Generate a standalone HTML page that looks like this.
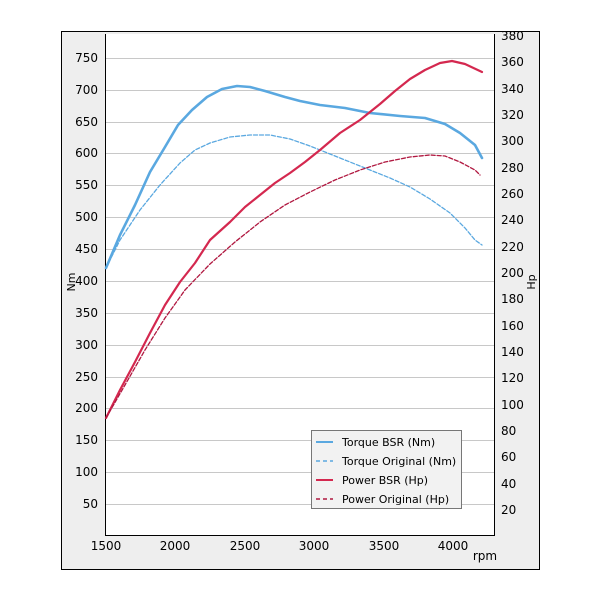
<!DOCTYPE html>
<html><head><meta charset="utf-8"><style>
html,body{margin:0;padding:0;background:#fff;}
svg{display:block;font-family:"DejaVu Sans","Liberation Sans",sans-serif;}
</style></head><body>
<svg width="600" height="600" viewBox="0 0 600 600" xmlns="http://www.w3.org/2000/svg">
<rect x="0" y="0" width="600" height="600" fill="#fff"/>
<rect x="61.5" y="31.5" width="478" height="538" fill="#eeeeee" stroke="#000" stroke-width="1"/>
<rect x="105.5" y="34" width="389" height="501.5" fill="#fff"/>
<g id="grid" stroke="#c8c8c8" stroke-width="1">
<line x1="106" x2="494" y1="504.5" y2="504.5"/><line x1="106" x2="494" y1="472.5" y2="472.5"/>
<line x1="106" x2="494" y1="440.5" y2="440.5"/><line x1="106" x2="494" y1="408.5" y2="408.5"/>
<line x1="106" x2="494" y1="377.5" y2="377.5"/><line x1="106" x2="494" y1="345.5" y2="345.5"/>
<line x1="106" x2="494" y1="313.5" y2="313.5"/><line x1="106" x2="494" y1="281.5" y2="281.5"/>
<line x1="106" x2="494" y1="249.5" y2="249.5"/><line x1="106" x2="494" y1="217.5" y2="217.5"/>
<line x1="106" x2="494" y1="185.5" y2="185.5"/><line x1="106" x2="494" y1="153.5" y2="153.5"/>
<line x1="106" x2="494" y1="122.5" y2="122.5"/><line x1="106" x2="494" y1="90.5" y2="90.5"/>
<line x1="106" x2="494" y1="58.5" y2="58.5"/>
</g>
<g stroke="#000" stroke-width="1" fill="none">
<line x1="105.5" y1="34" x2="105.5" y2="535.5"/>
<line x1="494.5" y1="34" x2="494.5" y2="535.5"/>
<line x1="105" y1="535.5" x2="495" y2="535.5"/>
</g>
<g id="ticks" stroke="#000" stroke-width="1"></g>
<g font-size="12" fill="#000" text-anchor="end">
<text x="98" y="508">50</text><text x="98" y="476">100</text><text x="98" y="444">150</text>
<text x="98" y="412">200</text><text x="98" y="381">250</text><text x="98" y="349">300</text>
<text x="98" y="317">350</text><text x="98" y="285">400</text><text x="98" y="253">450</text>
<text x="98" y="221">500</text><text x="98" y="189">550</text><text x="98" y="157">600</text>
<text x="98" y="126">650</text><text x="98" y="94">700</text><text x="98" y="62">750</text>
</g>
<g font-size="12" fill="#000" text-anchor="start">
<text x="501" y="514">20</text><text x="501" y="488">40</text><text x="501" y="461">60</text>
<text x="501" y="435">80</text><text x="501" y="409">100</text><text x="501" y="382">120</text>
<text x="501" y="356">140</text><text x="501" y="330">160</text><text x="501" y="303">180</text>
<text x="501" y="277">200</text><text x="501" y="251">220</text><text x="501" y="224">240</text>
<text x="501" y="198">260</text><text x="501" y="172">280</text><text x="501" y="145">300</text>
<text x="501" y="119">320</text><text x="501" y="93">340</text><text x="501" y="66">360</text>
<text x="501" y="40">380</text>
</g>
<g font-size="12" fill="#000" text-anchor="middle">
<text x="106" y="550">1500</text><text x="175" y="550">2000</text><text x="245" y="550">2500</text>
<text x="314" y="550">3000</text><text x="384" y="550">3500</text><text x="453" y="550">4000</text>
<text x="485" y="560">rpm</text>
</g>
<text font-size="11" transform="translate(75,282) rotate(-90)" text-anchor="middle">Nm</text>
<text font-size="11" transform="translate(535,282) rotate(-90)" text-anchor="middle">Hp</text>
<g fill="none" stroke-linejoin="round" stroke-linecap="round">
<polyline stroke="#5aa8e0" stroke-width="2.6" points="106,268 120,235 135,205 150,172 165,147 178,125 192,110 207,97 222,89 237,86 250,87 265,91 285,97 300,101 320,105 345,108 370,113 400,116 425,118 445,124 460,133 475,145 482,158"/>
<polyline stroke="#5aa8e0" stroke-width="1.3" stroke-dasharray="4,2" points="106,268 120,240 140,210 160,185 180,163 195,150 210,143 230,137 250,135 270,135 290,139 310,146 330,154 350,162 370,170 390,178 410,187 430,199 450,213 465,228 475,240 482,245"/>
<polyline stroke="#d4284f" stroke-width="2.2" points="106,418 120,390 135,362 150,333 165,305 180,282 195,263 210,240 230,222 245,207 260,195 275,183 290,173 305,162 320,150 340,133 360,120 380,104 395,91 410,79 425,70 440,63 452,61 465,64 482,72"/>
<polyline stroke="#b01840" stroke-width="1.3" stroke-dasharray="4,2" points="106,418 125,385 145,350 165,318 185,290 210,264 235,242 260,222 285,205 310,192 335,180 360,170 385,162 410,157 430,155 445,156 460,162 475,170 480,175"/>
</g>
<rect x="311.5" y="430.5" width="150" height="78" fill="#f2f2f2" stroke="#777" stroke-width="1"/>
<g stroke-width="2">
<line x1="316" x2="333" y1="442" y2="442" stroke="#5aa8e0"/>
<line x1="316" x2="333" y1="461" y2="461" stroke="#5aa8e0" stroke-dasharray="4,3" stroke-width="1.4"/>
<line x1="316" x2="333" y1="480" y2="480" stroke="#d4284f"/>
<line x1="316" x2="333" y1="499" y2="499" stroke="#b01840" stroke-dasharray="4,3" stroke-width="1.4"/>
</g>
<g font-size="11" fill="#000">
<text x="342" y="446">Torque BSR (Nm)</text>
<text x="342" y="465">Torque Original (Nm)</text>
<text x="342" y="484">Power BSR (Hp)</text>
<text x="342" y="503">Power Original (Hp)</text>
</g>
<script>
var g=document.getElementById('ticks'),s='';
for(var v=0;v<=780;v+=10){var y=536-v*0.6371;if(y<34)break;var L=(v%50==0)?6:3;s+='<line x1="106" x2="'+(106+L)+'" y1="'+y.toFixed(1)+'" y2="'+y.toFixed(1)+'"/>';}
for(var h=0;h<=380;h+=10){var y=536.3-h*1.3167;var L=(h%20==0)?6:3;s+='<line x1="'+(494-L)+'" x2="494" y1="'+y.toFixed(1)+'" y2="'+y.toFixed(1)+'"/>';}
for(var r=1500;r<=4290;r+=100){var x=106+(r-1500)*0.1388;var L=(r%500==0)?6:3;s+='<line x1="'+x.toFixed(1)+'" x2="'+x.toFixed(1)+'" y1="535" y2="'+(535-L)+'"/>';}
g.innerHTML=s;
</script>
</svg>
</body></html>
